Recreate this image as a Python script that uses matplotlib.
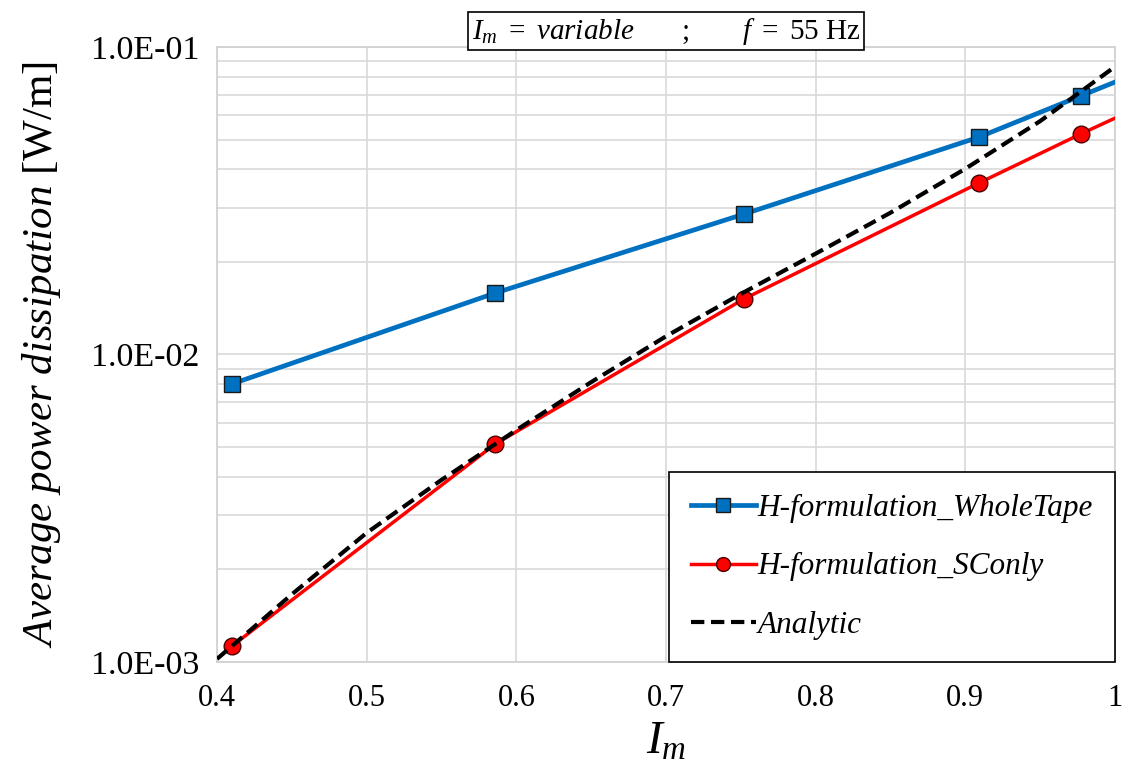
import numpy as np
import matplotlib
matplotlib.use("Agg")
import matplotlib.pyplot as plt
from matplotlib.ticker import FixedLocator, LogLocator, NullFormatter

plt.rcParams['font.family'] = 'Liberation Serif'
plt.rcParams['mathtext.fontset'] = 'custom'
plt.rcParams['mathtext.rm'] = 'Liberation Serif'
plt.rcParams['mathtext.it'] = 'Liberation Serif:italic'

# H-formulation, whole tape (last value only continues the line to the edge)
im_whole = [0.41, 0.586, 0.752, 0.909, 0.977, 1.0]
p_whole = [0.00802, 0.01585, 0.0286, 0.0509, 0.0693, 0.0769]

# H-formulation, superconductor only
im_sc = [0.41, 0.586, 0.752, 0.909, 0.977, 1.0]
p_sc = [0.001127, 0.00512, 0.01515, 0.0361, 0.0521, 0.0587]

# analytic curve
im_an = [0.40, 0.45, 0.50, 0.55, 0.60, 0.65, 0.70, 0.75, 0.80, 0.85, 0.90, 0.95, 1.0]
p_an = [0.001023, 0.00166, 0.00263, 0.00391, 0.00568, 0.00813, 0.01146,
        0.01574, 0.02128, 0.02891, 0.04018, 0.05741, 0.0863]

x_ticks = [0.4, 0.5, 0.6, 0.7, 0.8, 0.9, 1.0]
x_labels = ['0.4', '0.5', '0.6', '0.7', '0.8', '0.9', '1']
y_ticks = [1e-3, 1e-2, 1e-1]
y_labels = ['1.0E-03', '1.0E-02', '1.0E-01']

fig = plt.figure(figsize=(11.22, 7.75), dpi=100)
ax = fig.add_axes([0.1934, 0.1458, 0.8004, 0.7936])

ax.plot(im_whole, p_whole, color='#0070C0', lw=3.4, marker='s', ms=12,
        mfc='#0070C0', mec='#1a1a1a', mew=1.0, markevery=[0, 1, 2, 3, 4],
        label='H-formulation_WholeTape', zorder=3)
ax.plot(im_sc, p_sc, color='#FF0000', lw=2.5, marker='o', ms=12,
        mfc='#FF0000', mec='#4a0000', mew=1.0, markevery=[0, 1, 2, 3, 4],
        label='H-formulation_SConly', zorder=3)
ax.plot(im_an, p_an, color='black', lw=3.0, ls=(0, (3.2, 1.6)),
        label='Analytic', zorder=4)

ax.set_yscale('log')
ax.set_xlim(0.4, 1.0)
ax.set_ylim(1e-3, 1e-1)

ax.xaxis.set_major_locator(FixedLocator(x_ticks))
ax.set_xticklabels(x_labels, fontsize=22)
ax.yaxis.set_major_locator(FixedLocator(y_ticks))
ax.set_yticklabels(y_labels, fontsize=24.5)
ax.yaxis.set_minor_locator(LogLocator(base=10, subs=np.arange(2, 10)))
ax.yaxis.set_minor_formatter(NullFormatter())

ax.tick_params(axis='both', which='both', length=0)
ax.tick_params(axis='x', pad=16)
ax.tick_params(axis='y', pad=13)

ax.grid(True, which='major', color='#d9d9d9', lw=1.2)
ax.grid(True, which='minor', axis='y', color='#d9d9d9', lw=1.2)
ax.set_axisbelow(True)
for s in ax.spines.values():
    s.set_color('#d0d0d0')
    s.set_linewidth(1.2)

ax.set_xlabel(r'$I_m$', fontsize=34, labelpad=6)
ax.set_ylabel(r'$Average\ power\ dissipation$ [W/m]', fontsize=31, labelpad=20)

ax.text(0.5, 1.0, r'$I_m\ =\ variable\quad\quad\;;\quad\quad\ f\ =\ 55\ \mathrm{Hz}$',
        transform=ax.transAxes, ha='center', va='bottom', fontsize=21,
        bbox=dict(boxstyle='square,pad=0.12', fc='white', ec='black', lw=1.2))

leg = ax.legend(loc='lower right', bbox_to_anchor=(1.0, 0.0), frameon=True,
                fancybox=False, edgecolor='black', framealpha=1,
                prop={'family': 'Liberation Serif', 'style': 'italic', 'size': 22.5},
                handlelength=2.1, handletextpad=0.05, labelspacing=0.95,
                borderpad=0.7, borderaxespad=0)
leg.get_frame().set_linewidth(1.2)
for h in leg.legend_handles:
    h.set_markersize(10)

fig.savefig('out.png', dpi=100)
